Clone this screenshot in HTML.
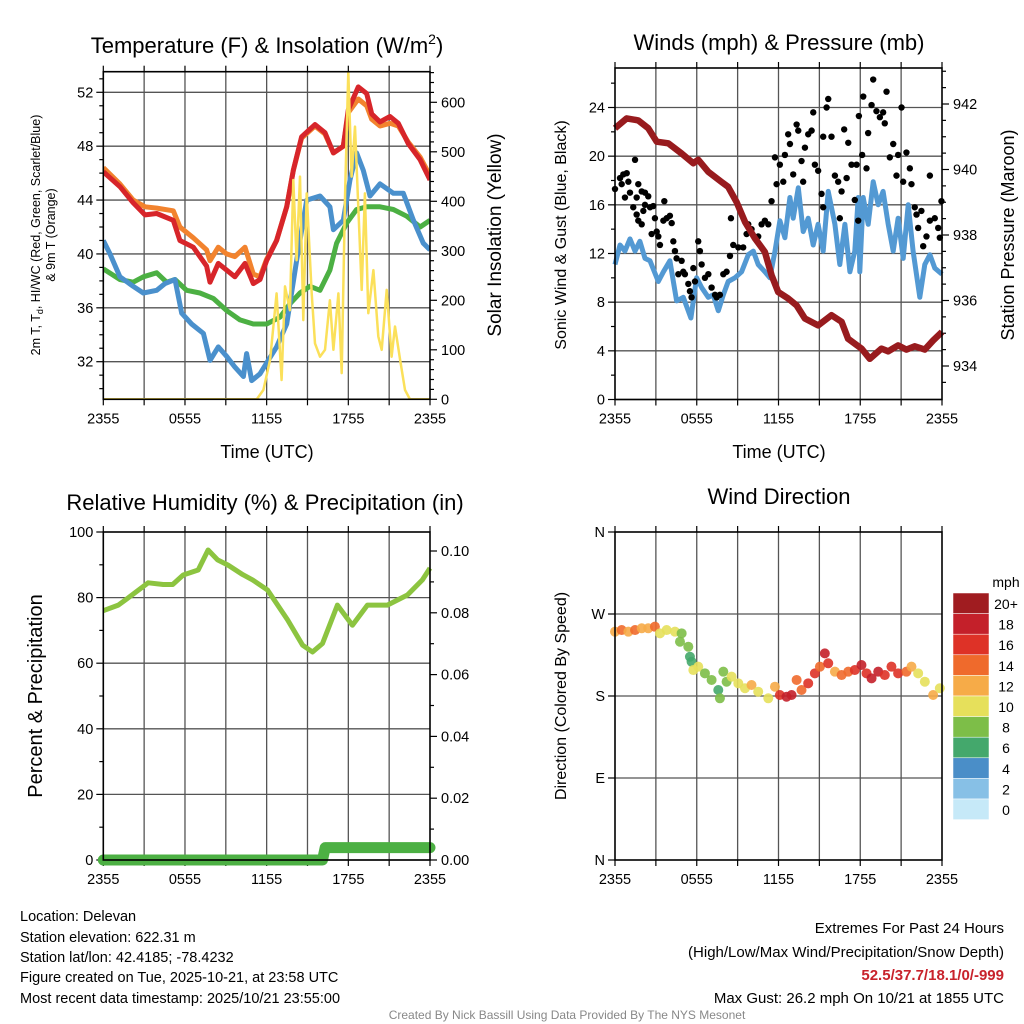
<!DOCTYPE html>
<html><head><meta charset="utf-8"><style>
html,body{margin:0;padding:0;background:#fff;}
svg{display:block;font-family:"Liberation Sans",Arial,sans-serif;}
</style></head><body>
<svg id="s" width="1024" height="1024" viewBox="0 0 1024 1024">
<g font-size="22" text-anchor="middle" fill="#000">
<text x="267" y="53">Temperature (F) &amp; Insolation (W/m<tspan dy="-9" font-size="14">2</tspan><tspan dy="9">)</tspan></text>
<text x="779" y="50">Winds (mph) &amp; Pressure (mb)</text>
<text x="265" y="510">Relative Humidity (%) &amp; Precipitation (in)</text>
<text x="779" y="504">Wind Direction</text>
</g>
<g font-size="18" text-anchor="middle">
<text x="267" y="458">Time (UTC)</text>
<text x="779" y="458">Time (UTC)</text>
<text transform="translate(40,235) rotate(-90)" font-size="12.5">2m T, T<tspan dy="3" font-size="9">d</tspan><tspan dy="-3">, HI/WC (Red, Green, Scarlet/Blue)</tspan></text>
<text transform="translate(55,235) rotate(-90)" font-size="12.5">&amp; 9m T (Orange)</text>
<text transform="translate(501,235) rotate(-90)" font-size="19">Solar Insolation (Yellow)</text>
<text transform="translate(566,235) rotate(-90)" font-size="16">Sonic Wind &amp; Gust (Blue, Black)</text>
<text transform="translate(1014,235) rotate(-90)" font-size="18">Station Pressure (Maroon)</text>
<text transform="translate(42,696) rotate(-90)" font-size="20">Percent &amp; Precipitation</text>
<text transform="translate(566,696) rotate(-90)" font-size="16">Direction (Colored By Speed)</text>
</g>
<g font-size="14.5" fill="#000">
<text x="20" y="921">Location: Delevan</text>
<text x="20" y="942">Station elevation: 622.31 m</text>
<text x="20" y="962">Station lat/lon: 42.4185; -78.4232</text>
<text x="20" y="982">Figure created on Tue, 2025-10-21, at 23:58 UTC</text>
<text x="20" y="1003">Most recent data timestamp: 2025/10/21 23:55:00</text>
</g>
<g font-size="15" text-anchor="end">
<text x="1004" y="933">Extremes For Past 24 Hours</text>
<text x="1004" y="957">(High/Low/Max Wind/Precipitation/Snow Depth)</text>
<text x="1004" y="980" font-weight="bold" fill="#c8232c">52.5/37.7/18.1/0/-999</text>
<text x="1004" y="1003">Max Gust: 26.2 mph On 10/21 at 1855 UTC</text>
</g>
<text x="567" y="1019" font-size="12" fill="#888" text-anchor="middle">Created By Nick Bassill Using Data Provided By The NYS Mesonet</text>
</svg>
<script>
// ---- Temperature panel data (hours since 2355, value) ----
const redH=[0,1.22,2.2,3.06,3.92,5.14,5.63,6.61,7.59,7.84,8.45,9.06,9.67,10.41,11.02,11.51,12,12.73,13.47,13.96,14.57,15.55,16.29,16.9,17.63,18,18.73,19.35,19.72,20.33,21.06,21.67,22.4,23.27,24];
const redT=[46.1,45,43.8,42.9,43,42.5,41,40.5,39.1,37.9,39.3,38.8,38.3,39.3,37.8,38.1,39.5,41,43.5,46.2,48.7,49.6,49,47.5,48,50.7,52.4,51.9,50.4,49.8,50.2,49.7,48.2,47,45.5];
const orangeT=[46.4,45.2,44,43.5,43.4,43.2,42,41.2,40.3,39.5,40.5,40,39.8,40.5,38.5,38.3,39.6,41,43.5,46.2,48.6,49.5,48.9,47.5,48,50.5,51.5,51,50,49.5,49.7,49.5,48.3,47.2,45.8];
const blueH=[0,.49,1.22,2.2,2.94,3.92,4.53,5.27,5.76,6.49,7.35,7.84,8.45,9.06,9.67,10.29,10.53,10.9,11.51,12,12.73,13.47,14.2,14.94,15.92,16.65,16.9,17.63,18.12,18.61,19.1,19.59,20.33,21.31,22.04,22.78,23.51,24];
const blueT=[41,40,38.3,37.6,37.1,37.3,37.8,38.1,35.6,34.8,34.1,32.1,33.1,32.4,31.6,30.9,32.6,30.6,31.1,31.9,33.1,34.8,39.5,44,44.3,43.5,41.8,42.5,45.5,47.5,46.2,44.3,45.2,44.5,44.5,42.5,40.8,40.3];
const greenH=[0,1.22,2.2,2.94,3.92,4.65,5.27,6.12,7.1,8.08,9.06,10.04,11.02,12,12.98,13.71,14.45,15.18,15.92,16.65,17.14,17.88,18.61,19.35,20.33,21.31,22.29,23.27,24];
const greenT=[38.9,38.1,37.9,38.3,38.6,37.9,38.1,37.3,37.1,36.7,35.8,35.1,34.8,34.8,35.3,36.3,37.1,37.6,37.3,38.8,40.8,42.3,43.3,43.5,43.5,43.3,42.8,42,42.5];
const solarH=[0,11.27,11.76,12.25,12.73,13.1,13.35,13.71,13.96,14.2,14.45,14.69,14.94,15.31,15.55,15.92,16.29,16.65,16.9,17.27,17.51,17.76,18,18.24,18.49,18.98,19.22,19.47,19.84,20.2,20.45,20.82,21.18,21.43,21.8,22.16,22.53,24];
const solarW=[0,0,19,80,214,39,228,180,443,281,450,160,416,214,113,86,100,200,100,214,53,416,662,450,551,221,416,174,261,127,100,221,86,147,80,19,0,0];
const tempTicks=[32,36,40,44,48,52];
const solarTicks=[0,100,200,300,400,500,600];
const timeLabels=["2355","0555","1155","1755","2355"];
// ---- Wind panel data ----
const presH=[0,.86,1.71,2.44,3.06,3.91,4.89,5.75,6.11,6.85,7.82,8.31,8.92,9.54,10.27,11,11.49,11.98,12.71,13.33,13.94,14.91,15.89,16.63,17.11,18.09,18.7,19.56,20.05,20.78,21.39,22,22.74,23.35,24];
const presMb=[941.26,941.56,941.5,941.26,940.85,940.8,940.49,940.19,940.3,939.93,939.62,939.47,939.01,938.4,937.9,937.48,936.77,936.26,936.06,935.85,935.45,935.24,935.55,935.35,934.83,934.53,934.22,934.53,934.45,934.63,934.5,934.6,934.5,934.78,935.04];
const windH=[0,.37,.73,1.1,1.47,1.83,2.2,2.57,3.18,3.55,4.03,4.52,5.01,5.57,5.99,6.36,6.85,7.21,7.58,7.95,8.31,8.8,9.29,9.78,10.15,10.51,11,11.37,11.74,12.1,12.47,12.84,13.08,13.45,13.81,14.18,14.55,14.91,15.28,15.65,16.14,16.5,16.87,17.24,17.6,17.85,17.97,18.22,18.58,18.95,19.32,19.68,20.05,20.42,20.78,21.15,21.52,21.88,22.37,22.74,23.11,23.47,24];
const windMph=[11.1,12.7,12.2,13.2,12.2,13,11.6,11.4,9.7,10.5,11.4,8.1,8.4,6.7,10,9.2,8.4,8.6,7.3,8.6,9.7,10,10.5,11.9,12.2,11.1,10.5,10,12.2,14.7,13.3,16.6,14.9,17.4,13.8,14.9,12.7,14.4,12.2,17.1,14.4,11.1,14.4,10.5,12.2,16.6,10.5,16.6,14.4,17.9,16,17.1,14.4,12.2,14.9,11.6,16,12.2,8.4,11.1,11.9,10.8,10.3];
const gustH=[0,.37,.61,.86,.49,.98,.73,1.1,1.47,1.59,1.71,1.96,2.2,2.44,2.2,2.08,1.34,1.59,1.71,1.96,2.57,2.81,2.93,3.06,2.69,3.18,3.3,3.55,3.62,3.79,4.03,4.16,4.28,4.4,4.52,4.65,4.89,5.01,5.13,5.38,5.5,5.62,5.75,5.87,6.11,6.23,6.36,6.6,6.85,7.09,7.34,7.46,7.7,7.95,8.19,8.44,8.51,8.68,9.05,9.41,9.66,9.78,10.02,10.27,10.51,10.76,11,11.25,11.49,11.74,11.86,12.1,12.35,12.47,12.71,12.84,13.08,13.33,13.45,13.69,13.81,13.94,14.18,14.43,14.55,14.67,14.91,15.16,15.28,15.28,15.53,15.65,15.89,16.14,16.38,16.5,16.63,16.82,17,17.12,17.36,17.6,17.73,17.85,17.9,18.14,18.22,18.46,18.58,18.83,18.95,19.19,19.44,19.68,19.93,19.8,20.17,20.42,20.66,20.78,21.03,21.15,21.39,21.64,21.76,22,22.13,22.25,22.49,22.62,22.86,23.11,23.11,23.47,23.72,23.84,23.96];
const gustMph=[17.3,18.2,18.5,18.6,17.7,17.9,16.6,17,19.7,16.6,17.7,17.1,17,16.7,16,15.5,15.8,15.2,14.7,14.4,15.8,15.9,14.9,13.8,13.6,13.4,12.7,14.7,16.3,14.9,15.1,14.5,13,12.2,11.6,10.3,11.4,10.5,10.3,9.5,8.9,8.4,10.8,9.7,13,12.2,11.1,10,10.3,9.2,8.6,8.4,8.6,10.3,10.5,11.8,14.9,12.7,12.5,12.5,13.6,14.4,14,13.3,13.4,14.4,14.7,14.4,16.3,19.9,17.7,19.3,17.9,20.1,21.8,21,18.5,22.6,22.1,19.6,17.9,20.7,21.8,22.1,23.6,19.3,18.8,16.9,15.8,21.6,24,24.7,21.6,18.4,17.9,14.9,17.1,22.2,18.2,21.1,19.3,16.4,19.3,14.7,23.3,20.1,24.9,19,21.9,24.2,26.3,23.7,23.2,23.6,25.3,22.7,19.9,21,18.4,20.1,24,17.9,20.3,19,17.7,15.8,15.2,14.1,15.5,12.6,13.4,18.4,14.7,14.9,14.1,13.3,16.3];
const windTicks=[0,4,8,12,16,20,24];
const presTicks=[934,936,938,940,942];
// ---- RH / precip data ----
const rhH=[0,1.1,1.83,3.3,4.4,5.1,5.87,6.97,7.7,8.4,9.17,10.24,10.97,12.07,13.54,14.64,15.37,16.1,17.2,18.3,19.4,20.87,22.34,23.44,24];
const rhPct=[76,77.7,79.9,84.5,84,84,86.9,88.4,94.5,91.5,89.9,87,85.4,82.3,73.2,65.5,63.4,66,77.7,71.6,77.7,77.7,80.8,85.4,89];
const precipH=[0,16.1,16.3,24];
const precipIn=[0,0,0.004,0.004];
const rhTicks=[0,20,40,60,80,100];
const precipTicks=["0.00","0.02","0.04","0.06","0.08","0.10"];
// ---- Wind direction data ----
const dirH=[0,.49,.98,1.47,1.96,2.44,2.93,3.3,3.79,4.4,4.89,4.77,5.38,5.5,5.62,5.75,6.11,6.6,7.09,7.58,7.7,7.95,8.19,8.56,9.05,9.54,10.02,10.51,11.25,11.74,12.1,12.59,12.96,13.33,13.69,14.18,14.67,15.04,15.4,15.65,16.14,16.63,17.12,17.6,18.09,18.46,18.83,19.32,19.8,20.29,20.78,21.39,21.76,22.25,22.74,23.35,23.84];
const dirDeg=[250.6,252.4,250.6,252.4,254.3,254.3,256.1,248.8,252.4,250.6,248.8,239.6,234.1,223.1,217.6,208.5,212.2,204.9,197.6,186.6,177.5,206.7,195.7,201.2,193.9,188.5,192.1,184.7,177.5,190.2,181.1,179.2,181.1,197.6,186.6,193.9,204.9,212.2,226.8,215.9,206.7,203,206.7,208.5,214,204.9,199.4,206.7,203,212.2,204.9,206.7,212.2,204.9,195.7,181.1,188.5];
const dirSpd=[12,14,12,13,12,12,13,10,10,10,8,8,7,6,6,9,10,8,8,6,7,8,8,10,10,10,12,10,10,12,16,17,18,14,14,15,15,14,18,16,12,13,14,15,17,16,18,17,16,15,16,14,12,10,10,12,10];
const dirLabels=["N","E","S","W","N"];
const cbLabels=["20+","18","16","14","12","10","8","6","4","2","0"];
const cbColors=["#a01c20","#c4202a","#de3227","#ef6a2c","#f6ab48","#e6e05b","#7dbe48","#44a86c","#4a8ec8","#87c0e6","#c6e9f8"];

const NS="http://www.w3.org/2000/svg";
const svg=document.getElementById('s');
function el(tag,attrs,parent){const e=document.createElementNS(NS,tag);for(const k in attrs)e.setAttribute(k,attrs[k]);(parent||svg).appendChild(e);return e;}
function lin(d0,d1,r0,r1){return v=>r0+(v-d0)*(r1-r0)/(d1-d0);}
function pathD(xs,ys,fx,fy){return xs.map((h,i)=>(i?'L':'M')+fx(h).toFixed(1)+','+fy(ys[i]).toFixed(1)).join('');}
function spdColor(s){let i=Math.min(10,Math.max(0,Math.round(s/2)));return cbColors[10-i];}

function frame(x0,x1,y0,y1,name){
  const g=el('g',{});
  
  
  const fx=lin(0,24,x0,x1);
  for(let h=3;h<24;h+=3){el('line',{x1:fx(h),x2:fx(h),y1:y0,y2:y1,stroke:'#555','stroke-width':1.3},g);}
  for(let i=0;i<timeLabels.length;i++){
    const t=el('text',{x:fx(i*6),y:y1+24,'font-size':14.5,'text-anchor':'middle'});
    
    
    t.textContent=timeLabels[i];
  }
  for(let h=0;h<=24;h+=3){el('line',{x1:fx(h),x2:fx(h),y1:y1,y2:y1+6,stroke:'#000','stroke-width':1.2});el('line',{x1:fx(h),x2:fx(h),y1:y0,y2:y0-6,stroke:'#000','stroke-width':1.2});}
  return fx;
}
function hgrid(yv,x0,x1){el('line',{x1:x0,x2:x1,y1:yv,y2:yv,stroke:'#555','stroke-width':1.3});}
function border(x0,x1,y0,y1,name){const r=el('rect',{x:x0,y:y0,width:x1-x0,height:y1-y0,fill:'none',stroke:'#000','stroke-width':1.6});}
function ytick(x,y,len,label,anchor,lx){el('line',{x1:x,x2:x+len,y1:y,y2:y,stroke:'#000','stroke-width':1.2});if(label!==null){const t=el('text',{x:lx,y:y+5,'font-size':14.5,'text-anchor':anchor});t.textContent=label;}}

// ===== Panel 1 =====
(function(){
const X0=103.3,X1=430,Y0=71.7,Y1=399.3;
const fy=lin(52,32,92.3,361.7), fs=lin(0,600,399.3,102.3);
const fx=frame(X0,X1,Y0,Y1,'temp');
tempTicks.forEach(v=>{hgrid(fy(v),X0,X1);ytick(X0,fy(v),-7,String(v),'end',X0-10);});
for(let v=30;v<=53;v++){if(v%4)ytick(X0,fy(v),-4,null);}
solarTicks.forEach(v=>ytick(X1,fs(v),7,String(v),'start',X1+11));
for(let v=20;v<=660;v+=20){if(v%100)ytick(X1,fs(v),4,null);}
const c=el('g',{'clip-path':'url(#c1)'});
const cp=el('clipPath',{id:'c1'});el('rect',{x:X0,y:Y0,width:X1-X0,height:Y1-Y0},cp);
let p;
p=el('path',{d:pathD(greenH,greenT,fx,fy),fill:'none',stroke:'#4cb043','stroke-width':5,'stroke-linejoin':'round'},c);
p=el('path',{d:pathD(blueH,blueT,fx,fy),fill:'none',stroke:'#4a90cc','stroke-width':5,'stroke-linejoin':'round'},c);
p=el('path',{d:pathD(redH,orangeT,fx,fy),fill:'none',stroke:'#f2832e','stroke-width':5,'stroke-linejoin':'round'},c);
p=el('path',{d:pathD(redH,redT,fx,fy),fill:'none',stroke:'#d7252a','stroke-width':5,'stroke-linejoin':'round'},c);
p=el('path',{d:pathD(solarH,solarW,fx,fs),fill:'none',stroke:'#fbe05a','stroke-width':2.5,'stroke-linejoin':'round'},c);
border(X0,X1,Y0,Y1,'temp');
})();

// ===== Panel 2 =====
(function(){
const X0=615,X1=942,Y0=68,Y1=399.5;
const fy=lin(0,24,399.5,107.5), fp=lin(934,942,366,104);
const fx=frame(X0,X1,Y0,Y1,'wind');
windTicks.forEach(v=>{hgrid(fy(v),X0,X1);ytick(X0,fy(v),-7,String(v),'end',X0-10);});
for(let v=2;v<=26;v+=4)ytick(X0,fy(v),-4,null);
presTicks.forEach(v=>ytick(X1,fp(v),7,String(v),'start',X1+11));
for(let v=933.5;v<=943;v+=0.5){if(v%2)ytick(X1,fp(v),4,null);}
let p=el('path',{d:pathD(windH,windMph,fx,fy),fill:'none',stroke:'#5399d3','stroke-width':5,'stroke-linejoin':'round'});
const g=el('g',{});
gustH.forEach((h,i)=>{el('circle',{cx:fx(h),cy:fy(gustMph[i]),r:3.2,fill:'#000'},g);});
p=el('path',{d:pathD(presH,presMb,fx,fp),fill:'none',stroke:'#981b1e','stroke-width':6.5,'stroke-linejoin':'round'});
border(X0,X1,Y0,Y1,'wind');
})();

// ===== Panel 3 =====
(function(){
const X0=103.3,X1=430,Y0=532,Y1=860;
const fy=lin(0,100,860,532), fpr=lin(0,0.1,860,551);
const fx=frame(X0,X1,Y0,Y1,'rh');
rhTicks.forEach(v=>{if(v<100)hgrid(fy(v),X0,X1);ytick(X0,fy(v),-7,String(v),'end',X0-10);});
for(let v=10;v<100;v+=20)ytick(X0,fy(v),-4,null);
precipTicks.forEach(v=>ytick(X1,fpr(+v),7,v,'start',X1+11));
for(let v=0.01;v<0.105;v+=0.02)ytick(X1,fpr(v),4,null);
let p=el('path',{d:pathD(rhH,rhPct,fx,fy),fill:'none',stroke:'#8cc440','stroke-width':5,'stroke-linejoin':'round'});
p=el('path',{d:pathD(precipH,precipIn,fx,fpr),fill:'none',stroke:'#4cb043','stroke-width':11,'stroke-linejoin':'round','stroke-linecap':'round'});
border(X0,X1,Y0,Y1,'rh');
})();

// ===== Panel 4 =====
(function(){
const X0=615,X1=942,Y0=532,Y1=860;
const fy=lin(0,360,860,532);
const fx=frame(X0,X1,Y0,Y1,'direction');
dirLabels.forEach((v,i)=>{if(i>0&&i<4)hgrid(fy(i*90),X0,X1);ytick(X0,fy(i*90),-7,v,'end',X0-10);});
const g=el('g',{});
dirH.forEach((h,i)=>{el('circle',{cx:fx(h),cy:fy(dirDeg[i]),r:5,fill:spdColor(dirSpd[i]),'fill-opacity':0.9},g);});
border(X0,X1,Y0,Y1,'direction');
const cb=el('g',{});
const t=el('text',{x:1006,y:587,'font-size':14,'text-anchor':'middle'},cb);t.textContent='mph';
const bh=20.6;
cbColors.forEach((c,i)=>{el('rect',{x:953,y:593+i*bh,width:36,height:bh,fill:c,stroke:'#fff','stroke-width':0.5},cb);
 const l=el('text',{x:1006,y:593+i*bh+16,'font-size':14,'text-anchor':'middle'},cb);
 
 
 l.textContent=cbLabels[i];});
})();
</script>
</body></html>
